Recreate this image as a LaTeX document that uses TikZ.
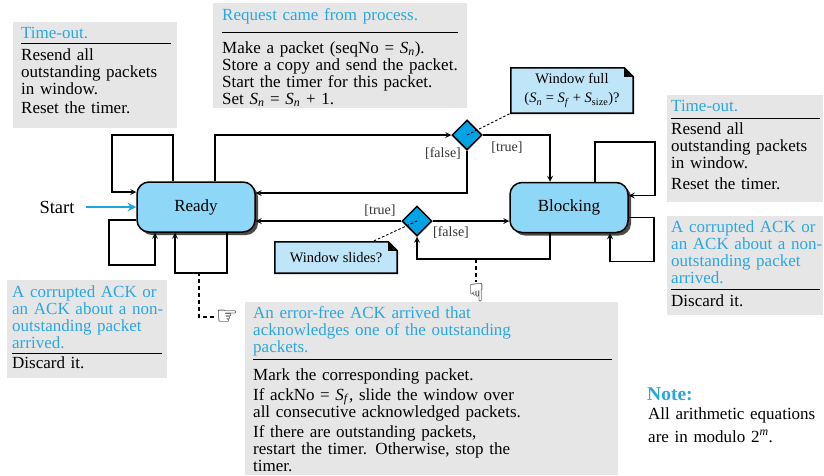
\documentclass[tikz,border=0pt]{standalone}
\usepackage{fontspec}
\setmainfont{Liberation Serif}
\newfontfamily\symfont{DejaVu Sans}
\usetikzlibrary{arrows,shapes.geometric,shadows,backgrounds}

\definecolor{panelgray}{HTML}{E6E6E7}
\definecolor{tblue}{HTML}{2AA7DF}
\definecolor{statefill}{HTML}{8FD7F7}
\definecolor{choicefill}{HTML}{00A3E4}
\definecolor{notefill}{HTML}{BFE5F8}
\definecolor{startblue}{HTML}{1EA5E0}

\newcommand{\bodysize}{\fontsize{17}{17}\selectfont}
\newcommand{\notesize}{\fontsize{14.5}{17}\selectfont}
\newcommand{\Sv}[1]{\textit{S}\textsubscript{\textit{#1}}}
% title in blue, rule, then the actions
\newcommand{\paneltext}[4]{{\leavevmode\color{tblue}#1\par}\vskip-\prevdepth\kern#2\hrule height 1.2pt\prevdepth=0pt\kern#3\relax #4}

\tikzset{
  panel/.style={fill=panelgray},
  txt/.style={anchor=base west, inner sep=0pt, align=left},
  state/.style={draw, line width=1.5pt, rounded corners=12pt, fill=statefill,
    minimum width=118pt, minimum height=50pt,
    drop shadow={shadow xshift=3pt, shadow yshift=-3pt, fill=black!70, opacity=1}},
  choice/.style={diamond, draw, line width=1.5pt, fill=choicefill, minimum size=30pt, inner sep=0pt},
  note/.style={minimum width=122pt, minimum height=45pt, inner sep=2pt, align=center, font=\notesize},
  notebox/.style={fill=notefill, draw=black, line width=1.6pt},
  flow/.style={line width=1.6pt, ->, >=stealth},
  guard/.style={font=\fontsize{14}{16}\selectfont, text=black!80},
  hint/.style={line width=0.9pt, dash pattern=on 2.5pt off 2pt},
  evt/.style={line width=2.6pt, dash pattern=on 4pt off 3pt},
  hand/.style={font=\symfont\fontsize{25}{25}\selectfont, inner sep=0pt},
}

\begin{document}
\begin{tikzpicture}[x=1pt,y=-1pt,font=\bodysize]
  \useasboundingbox (0,0) rectangle (824,475);

  %gray panels
  \fill[panel] (13,22) rectangle (177,128);
  \fill[panel] (213,3) rectangle (467,108);
  \fill[panel] (667,95) rectangle (823,202);
  \fill[panel] (667,216) rectangle (823,315);
  \fill[panel] (7,280) rectangle (167,378);
  \fill[panel] (245,302) rectangle (618,475);

  %panel texts
  \node[txt, text width=150pt] (timeoutL) at (21,38)
    {\paneltext{Time-out.}{5pt}{-1.2pt}{Resend all\\ outstanding packets\\ in window.\\[2pt] Reset the timer.}};
  \node[txt, text width=236pt] (request) at (222,20)
    {\paneltext{Request came from process.}{12pt}{2.8pt}{Make a packet (seqNo = \Sv{n}).\\ Store a copy and send the packet.\\ Start the timer for this packet.\\ Set \Sv{n} = \Sv{n} + 1.}};
  \node[txt, text width=149pt] (timeoutR) at (671,111)
    {\paneltext{Time-out.}{7pt}{-2pt}{Resend all\\ outstanding packets\\ in window.\\[4pt] Reset the timer.}};
  \node[txt, text width=149pt] (corruptR) at (671,232)
    {\paneltext{A corrupted ACK or\\ \mbox{an ACK about a non-}\\ outstanding packet\\ arrived.}{6pt}{-1pt}{Discard it.}};
  \node[txt, text width=150pt] (corruptL) at (12,297)
    {\paneltext{A corrupted ACK or\\ \mbox{an ACK about a non-}\\ outstanding packet\\ arrived.}{5pt}{-3.2pt}{Discard it.}};
  \node[txt, text width=359pt] (ackok) at (253,318)
    {\paneltext{An error-free ACK arrived that\\ acknowledges one of the outstanding\\ packets.}{7pt}{2.8pt}{Mark the corresponding packet.\\[3pt] If ackNo = \Sv{f}, slide the window over\\ all consecutive acknowledged packets.\\[3pt] If there are outstanding packets,\\ restart the timer. Otherwise, stop the\\ timer.}};

  %states and choices
  \node[state] (ready) at (196,207) {Ready};
  \node[state] (blocking) at (569,207.5) {Blocking};
  \node[choice] (full) at (467,135) {};
  \node[choice] (slide) at (417,221) {};
  \node[note] (wfull) at (572,90.5) {Window full\\[2pt] (\Sv{n} = \Sv{f} + \textit{S}\textsubscript{size})?};
  \node[note, minimum height=31pt] (wslide) at (336,257.5) {Window slides?};
  \begin{scope}[on background layer]
    \foreach \n in {wfull,wslide}{
      \filldraw[notebox] (\n.north west) -- ([xshift=-9pt]\n.north east) -- ([yshift=-9pt]\n.north east)
        -- (\n.south east) -- (\n.south west) -- cycle;
      \fill ([xshift=-9pt]\n.north east) -- ([yshift=-9pt]\n.north east) -- ([shift={(-9pt,-9pt)}]\n.north east) -- cycle;
    }
  \end{scope}

  %start
  \node[font=\fontsize{18.5}{18.5}\selectfont] (start) at (57,207) {Start};
  \draw[->, >=stealth, line width=2.8pt, startblue, shorten <=8pt] (start) -- (ready);

  %Ready
  \draw[flow] ([xshift=-23pt]ready.north) |- ++(-61,-46) |- ([yshift=15pt]ready.west);
  \draw[flow] ([yshift=-13pt]ready.west) -| ++(-27,45) -| ([xshift=-41pt]ready.south);
  \draw[flow] ([xshift=31pt]ready.south) -- ++(0,40) -| ([xshift=-21pt]ready.south);
  \draw[flow] ([xshift=19pt]ready.north) |- (full.west);
  %window full?
  \draw[flow] (full.east) -| ([xshift=-19pt]blocking.north);
  \draw[flow] (full.south) |- ([yshift=14pt]ready.east);
  \node[guard] (fulltrue) at (507,148) {[true]};
  \node[guard] (fullfalse) at (443,154) {[false]};
  %window slides?
  \draw[flow] (slide.west) -- (slide.west -| ready.east);
  \draw[flow] (slide.east) -- (slide.east -| blocking.west);
  \node[guard] (slidetrue) at (380,211) {[true]};
  \node[guard] (slidefalse) at (451,232) {[false]};
  %Blocking
  \draw[flow] ([xshift=-19pt]blocking.south) -- ++(0,26) -| (slide.south);
  \draw[flow] ([xshift=26pt]blocking.north) |- ++(60,-40) |- ([yshift=12pt]blocking.east);
  \draw[flow] ([yshift=-10pt]blocking.east) -| ++(25,44) -| ([xshift=41pt]blocking.south);

  %notes
  \draw[hint] (full.center) -- (wfull.south west);
  \draw[hint] (slide.center) -- ([xshift=36pt]wslide.north);

  %events
  \node[hand] (hand1) at (227,317) {☞};
  \node[hand, rotate=-90] (hand2) at (476,293) {☞};
  \coordinate (ev1) at (199,272);
  \coordinate (ev2) at (476,258.5);
  \draw[evt] (ev1) |- (hand1.west);
  \draw[evt] (ev2) -- (hand2.west);

  %Note
  \node[txt, font=\bfseries\fontsize{19.5}{20}\selectfont, text=tblue] (notehead) at (647,400) {Note:};
  \node[txt, text width=172pt] (notebody) at (648,419) {All arithmetic equations\\[6pt] are in modulo 2\textsuperscript{\textit{m}}.};
\end{tikzpicture}
\end{document}
